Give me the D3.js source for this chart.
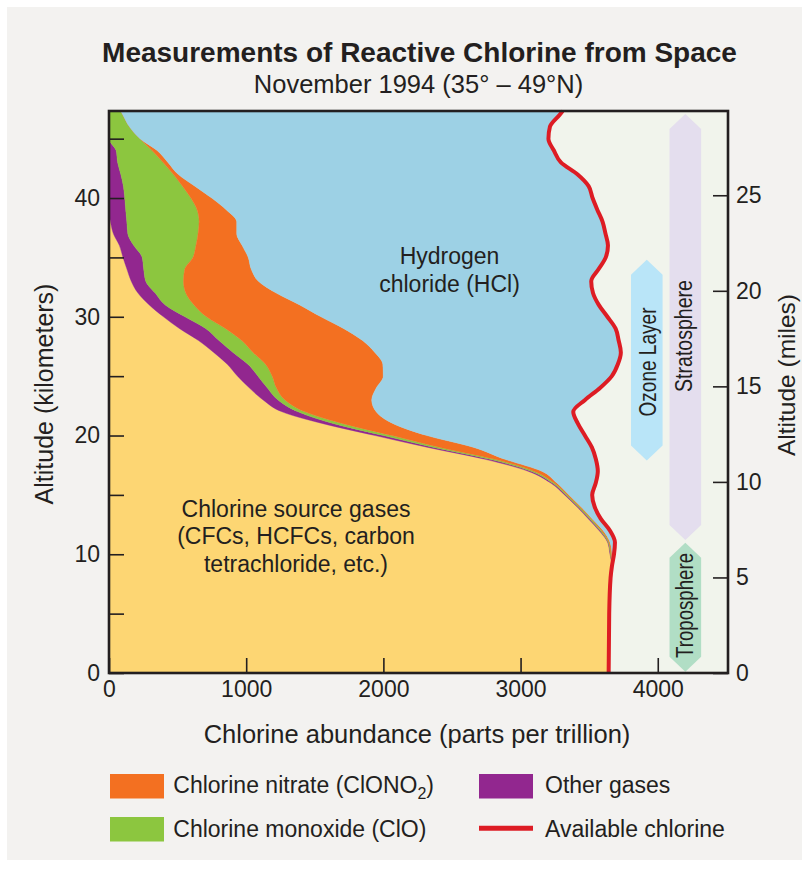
<!DOCTYPE html>
<html>
<head>
<meta charset="utf-8">
<script src="https://cdn.jsdelivr.net/npm/d3@7"></script>
<style>
  html, body { margin: 0; padding: 0; background: #ffffff; }
  svg { display: block; font-family: "Liberation Sans", Arial, Helvetica, sans-serif; }
</style>
</head>
<body>
<svg id="chart" width="802" height="870"></svg>
<script>
// ---------------- DATA ----------------
const altitudes = [47.33, 47, 46, 45, 44, 43, 42, 41, 40, 39, 38, 37, 36, 35, 34, 33, 32, 31, 30, 29, 28, 27, 26, 25, 24, 23, 22, 21, 20, 19, 18, 17, 16, 15, 14, 13, 12, 11, 10, 9, 8, 5, 0];
// chlorine abundance, parts per trillion
const sourceGases      = [0, 0, 0, 0, 0, 0, 0, 0, 0, 0, 11, 32, 76, 102, 131, 162, 211, 293, 397, 515, 652, 763, 862, 937, 1024, 1123, 1261, 1560, 1939, 2325, 2741, 3054, 3220, 3321, 3410, 3493, 3572, 3635, 3652, 3666, 3656, 3646, 3642];
const otherGases       = [0, 0, 0, 0, 52, 63, 86, 105, 115, 122, 119, 105, 105, 140, 122, 106, 126, 117, 157, 192, 150, 141, 151, 149, 131, 109, 117, 80, 62, 44, 36, 22, 13, 10, 9, 9, 8, 4, 3, 0, 0, 0, 0];
const chlorineMonoxide = [85, 101, 149, 226, 262, 332, 383, 431, 482, 521, 527, 512, 453, 370, 299, 275, 223, 210, 157, 144, 166, 146, 128, 104, 66, 51, 51, 66, 62, 44, 37, 22, 14, 11, 11, 11, 10, 6, 4, 0, 0, 0, 0];
const chlorineNitrate  = [0, 0, 0, 0, 37, 35, 35, 90, 152, 213, 274, 282, 337, 403, 485, 546, 659, 770, 834, 861, 880, 888, 855, 809, 727, 632, 519, 366, 255, 247, 72, 56, 18, 11, 10, 8, 11, 7, 7, 0, 0, 0, 0];
const hydrogenChloride = [3222, 3183, 3065, 2977, 2892, 2864, 2910, 2870, 2776, 2704, 2667, 2688, 2666, 2606, 2531, 2426, 2309, 2180, 2088, 1981, 1867, 1793, 1713, 1666, 1631, 1555, 1436, 1346, 1151, 860, 663, 409, 283, 169, 100, 63, 50, 36, 15, 0, 0, 0, 0];
const availableChlorine = [3307, 3284, 3214, 3203, 3243, 3294, 3414, 3496, 3525, 3560, 3598, 3619, 3637, 3621, 3568, 3515, 3528, 3570, 3633, 3693, 3715, 3731, 3709, 3665, 3579, 3470, 3384, 3418, 3469, 3520, 3549, 3563, 3548, 3522, 3540, 3584, 3651, 3688, 3681, 3666, 3656, 3646, 3642];

const xTickValues = [0, 1000, 2000, 3000, 4000];
const kmTickValues = [0, 5, 10, 15, 20, 25, 30, 35, 40, 45];
const mileTickValues = [0, 5, 10, 15, 20, 25];

const seriesKeys = ["source", "other", "clo", "clono2", "hcl"];
const seriesColors = { source: "#fdd673", other: "#92278f", clo: "#8cc63f", clono2: "#f37021", hcl: "#9dd1e5" };

// atmosphere-region bands (km range, centre in ppt)
const regions = [
  { name: "Stratosphere", low: 11.2, high: 47.07, center: 4201, color: "#e4deee" },
  { name: "Ozone Layer",  low: 17.9, high: 34.8,  center: 3920, color: "#b9e5f8" },
  { name: "Troposphere",  low: 0.11, high: 10.96, center: 4201, color: "#b1dec5" }
];

const legendItems = [
  { label: "Chlorine nitrate (ClONO", sub: "2", tail: ")", color: "#f37021", type: "rect" },
  { label: "Chlorine monoxide (ClO)", color: "#8cc63f", type: "rect" },
  { label: "Other gases", color: "#92278f", type: "rect" },
  { label: "Available chlorine", color: "#dd1c24", type: "line" }
];

// ---------------- CHART ----------------
const svg = d3.select("#chart");
const ink = "#231f20";

svg.append("rect").attr("x", 7).attr("y", 7).attr("width", 795).attr("height", 853).attr("fill", "#f3f2f0");

const x = d3.scaleLinear().domain([0, 4512]).range([109, 728]);
const y = d3.scaleLinear().domain([0, 47.33]).range([673, 111]);
const yMi = d3.scaleLinear().domain([0, 47.33 / 1.609344]).range([673, 111]);

// plot background
svg.append("rect")
  .attr("x", x(0)).attr("y", y(47.33))
  .attr("width", x(4512) - x(0)).attr("height", y(0) - y(47.33))
  .attr("fill", "#f1f4ec");

const rows = altitudes.map((a, i) => ({
  alt: a,
  source: sourceGases[i],
  other: otherGases[i],
  clo: chlorineMonoxide[i],
  clono2: chlorineNitrate[i],
  hcl: hydrogenChloride[i]
}));

const stacked = d3.stack().keys(seriesKeys)(rows);
const curve = d3.curveMonotoneY;
const area = d3.area()
  .y(d => y(d.data.alt))
  .x0(d => x(d[0]))
  .x1(d => x(d[1]))
  .curve(curve);

svg.append("g").selectAll("path").data(stacked).join("path")
  .attr("d", area)
  .attr("fill", d => seriesColors[d.key])
  .attr("stroke", d => seriesColors[d.key])
  .attr("stroke-width", 0.4);

// available chlorine line
const line = d3.line()
  .x((d, i) => x(availableChlorine[i]))
  .y(d => y(d))
  .curve(curve);
svg.append("path")
  .attr("d", line(altitudes))
  .attr("fill", "none")
  .attr("stroke", "#dd1c24")
  .attr("stroke-width", 4)
  .attr("stroke-linejoin", "round");

// region arrows
const bandHalf = 15.8, tip = 15;
regions.forEach(r => {
  const cx = x(r.center), top = y(r.high), bot = y(r.low);
  const pts = [
    [cx, top], [cx + bandHalf, top + tip], [cx + bandHalf, bot - tip],
    [cx, bot], [cx - bandHalf, bot - tip], [cx - bandHalf, top + tip]
  ];
  svg.append("path").attr("d", d3.line()(pts) + "Z").attr("fill", r.color);
});
const regionLabels = [
  { text: "Stratosphere", cx: x(4201), cy: 336, len: 112, off: 7 },
  { text: "Ozone Layer", cx: x(3920), cy: 362, len: 109, off: 9 },
  { text: "Troposphere", cx: x(4201), cy: 605.5, len: 105, off: 7.5 }
];
regionLabels.forEach(l => {
  svg.append("text")
    .attr("transform", `translate(${l.cx + l.off},${l.cy}) rotate(-90)`)
    .attr("text-anchor", "middle")
    .attr("font-size", 23)
    .attr("textLength", l.len)
    .attr("lengthAdjust", "spacingAndGlyphs")
    .attr("fill", ink)
    .text(l.text);
});

// in-plot labels
const inLabel = (lines, cx, y0, dy) => {
  lines.forEach((t, i) => {
    svg.append("text").attr("x", cx).attr("y", y0 + i * dy)
      .attr("text-anchor", "middle").attr("font-size", 23).attr("fill", ink).text(t);
  });
};
inLabel(["Hydrogen", "chloride (HCl)"], 449.5, 263.5, 28.3);
inLabel(["Chlorine source gases", "(CFCs, HCFCs, carbon", "tetrachloride, etc.)"], 296, 516.7, 27.6);

// axes
const styleAxis = g => {
  g.select(".domain").remove();
  g.selectAll(".tick line").attr("stroke", ink).attr("stroke-width", 1.6);
  g.selectAll(".tick text").attr("fill", ink).attr("font-size", 23)
    .attr("font-family", "Liberation Sans, Arial, Helvetica, sans-serif");
};

svg.append("g").attr("transform", `translate(${x(0)},0)`)
  .call(d3.axisLeft(y).tickValues(kmTickValues).tickSize(-15).tickPadding(9)
    .tickFormat(d => d % 10 === 0 ? String(d) : ""))
  .call(styleAxis);

svg.append("g").attr("transform", `translate(${x(4512)},0)`)
  .call(d3.axisRight(yMi).tickValues(mileTickValues).tickSize(-15).tickPadding(8)
    .tickFormat(d3.format("d")))
  .call(styleAxis);

svg.append("g").attr("transform", `translate(0,${y(0)})`)
  .call(d3.axisBottom(x).tickValues(xTickValues).tickSize(-15).tickPadding(8)
    .tickFormat(d3.format("d")))
  .call(styleAxis);

// frame
svg.append("rect")
  .attr("x", x(0)).attr("y", y(47.33))
  .attr("width", x(4512) - x(0)).attr("height", y(0) - y(47.33))
  .attr("fill", "none").attr("stroke", ink).attr("stroke-width", 2.6);

// titles
svg.append("text").attr("x", 419.5).attr("y", 62.3).attr("text-anchor", "middle")
  .attr("font-size", 28).attr("font-weight", "bold").attr("fill", ink)
  .text("Measurements of Reactive Chlorine from Space");
svg.append("text").attr("x", 418.5).attr("y", 92.7).attr("text-anchor", "middle")
  .attr("font-size", 25.5).attr("fill", ink)
  .text("November 1994 (35° – 49°N)");

// axis titles
svg.append("text").attr("x", 417).attr("y", 743.3).attr("text-anchor", "middle")
  .attr("font-size", 25.5).attr("fill", ink)
  .text("Chlorine abundance (parts per trillion)");
svg.append("text").attr("transform", "translate(53,394) rotate(-90)").attr("text-anchor", "middle")
  .attr("font-size", 25).attr("fill", ink).text("Altitude (kilometers)");
svg.append("text").attr("transform", "translate(795,375) rotate(-90)").attr("text-anchor", "middle")
  .attr("font-size", 24.5).attr("fill", ink).text("Altitude (miles)");

// legend
const legendPos = [
  { sx: 110, sy: 774, tx: 173.3, ty: 793.3 },
  { sx: 110, sy: 817, tx: 173.3, ty: 836.7 },
  { sx: 479, sy: 774, tx: 545, ty: 793.3 },
  { sx: 479, sy: 817, tx: 545, ty: 836.7 }
];
legendItems.forEach((it, i) => {
  const p = legendPos[i];
  if (it.type === "rect") {
    svg.append("rect").attr("x", p.sx).attr("y", p.sy).attr("width", 54).attr("height", 24.5).attr("fill", it.color);
  } else {
    svg.append("line").attr("x1", p.sx).attr("x2", p.sx + 54).attr("y1", p.sy + 11.3).attr("y2", p.sy + 11.3)
      .attr("stroke", it.color).attr("stroke-width", 5);
  }
  const t = svg.append("text").attr("x", p.tx).attr("y", p.ty).attr("font-size", 23).attr("fill", ink);
  t.append("tspan").text(it.label);
  if (it.sub) {
    t.append("tspan").attr("font-size", 16).attr("dy", 6).text(it.sub);
    t.append("tspan").attr("dy", -6).text(it.tail);
  }
});
</script>
</body>
</html>
